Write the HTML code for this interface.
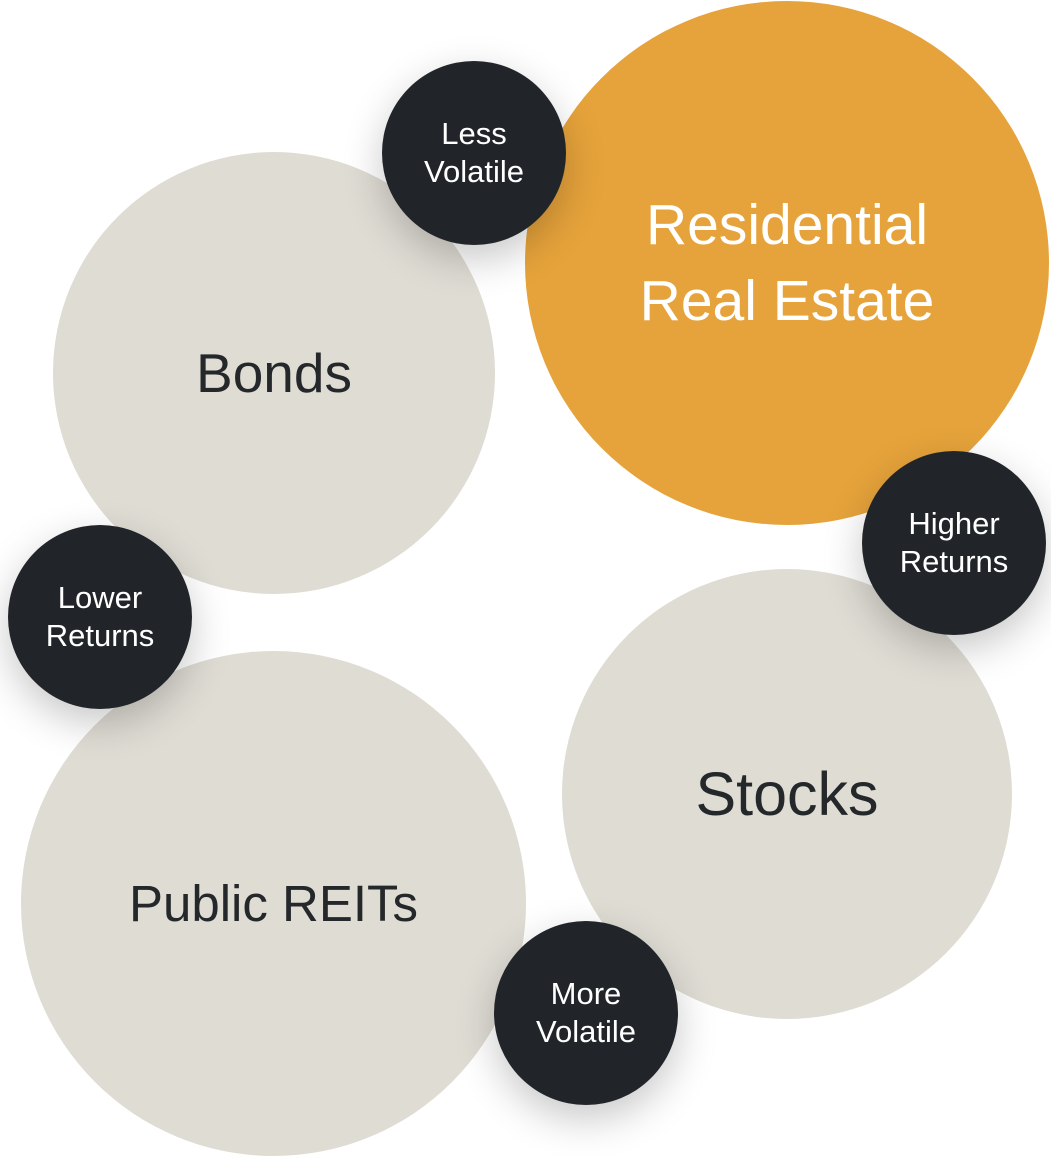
<!DOCTYPE html>
<html><head><meta charset="utf-8"><style>
html,body{margin:0;padding:0;background:#fff;}
body{width:1051px;height:1160px;position:relative;overflow:hidden;font-family:"Liberation Sans","DejaVu Sans",sans-serif;}
.c{position:absolute;border-radius:50%;display:flex;align-items:center;justify-content:center;text-align:center;}
.b{background:#dfdcd4;color:#25282b;}
.d{background:#212529;color:#fff;font-size:31px;line-height:38px;box-shadow:0 14px 40px rgba(0,0,0,0.22);}
</style></head><body>
<div class="c b" style="left:53px;top:152px;width:442px;height:442px;font-size:55px;">Bonds</div>
<div class="c" style="left:525px;top:1px;width:524px;height:524px;background:#e6a33b;color:#fff;font-size:57px;line-height:76px;">Residential<br>Real Estate</div>
<div class="c b" style="left:562px;top:569px;width:450px;height:450px;font-size:61px;">Stocks</div>
<div class="c b" style="left:21px;top:651px;width:505px;height:505px;font-size:51px;">Public REITs</div>
<div class="c d" style="left:382px;top:61px;width:184px;height:184px;">Less<br>Volatile</div>
<div class="c d" style="left:8px;top:525px;width:184px;height:184px;">Lower<br>Returns</div>
<div class="c d" style="left:862px;top:451px;width:184px;height:184px;">Higher<br>Returns</div>
<div class="c d" style="left:494px;top:921px;width:184px;height:184px;">More<br>Volatile</div>
</body></html>
